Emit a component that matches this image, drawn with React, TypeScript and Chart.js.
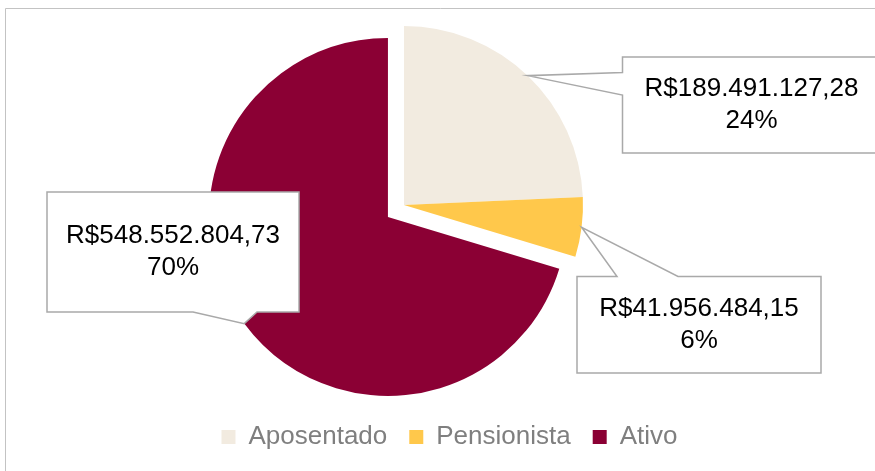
import React, { useEffect, useRef } from 'react';
import { Chart, registerables } from 'chart.js';

Chart.register(...registerables);

// ---- data ----
const CATEGORIES = ['Aposentado', 'Pensionista', 'Ativo'];
const VALUES = [189491127.28, 41956484.15, 548552804.73];
const PERCENT_LABELS = ['24%', '6%', '70%'];
const EXPLODE = [0, 0, 20];
const COLORS = ['#F2EBE0', '#FFC84B', '#8B0034'];

// ---- layout (positions / sizes / styles) ----
const FONT = "'Liberation Sans', Arial, sans-serif";
const PIE_AREA = { cx: 404, cy: 205, r: 179 };
const CALLOUTS = [
  { x: 622.5, y: 57, w: 258, h: 96, side: 'left', a: 72.5, b: 95 },
  { x: 577, y: 276.5, w: 244, h: 96.5, side: 'top', a: 617, b: 678 },
  { x: 47, y: 192, w: 252, h: 120, side: 'bottom', a: 193, b: 257 },
];

function formatBRL(v: number): string {
  const [intPart, dec] = v.toFixed(2).split('.');
  const grouped = intPart.replace(/\B(?=(\d{3})+(?!\d))/g, '.');
  return 'R$' + grouped + ',' + dec;
}

const framePlugin = {
  id: 'frame',
  beforeDraw(chart: any) {
    const ctx = chart.ctx;
    ctx.save();
    ctx.strokeStyle = '#c3c3c3';
    ctx.lineWidth = 1;
    ctx.beginPath();
    ctx.moveTo(5.5, chart.height);
    ctx.lineTo(5.5, 8.5);
    ctx.lineTo(chart.width, 8.5);
    ctx.stroke();
    ctx.restore();
  },
};

const pieAreaPlugin = {
  id: 'pieArea',
  afterLayout(chart: any) {
    const { cx, cy, r } = PIE_AREA;
    chart.chartArea = {
      left: cx - r,
      right: cx + r,
      top: cy - r,
      bottom: cy + r,
      width: 2 * r,
      height: 2 * r,
    };
  },
  afterDatasetUpdate(chart: any, args: any) {
    const meta = args.meta;
    meta.data.forEach((arc: any, i: number) => {
      const d = EXPLODE[i] || 0;
      if (!d) return;
      const mid = (arc.startAngle + arc.endAngle) / 2;
      arc.x += Math.cos(mid) * d;
      arc.y += Math.sin(mid) * d;
    });
  },
};

const calloutPlugin = {
  id: 'callouts',
  afterDatasetsDraw(chart: any) {
    const ctx = chart.ctx;
    const meta = chart.getDatasetMeta(0);
    meta.data.forEach((arc: any, i: number) => {
      const c = CALLOUTS[i];
      if (!c) return;
      const mid = (arc.startAngle + arc.endAngle) / 2;
      const tx = arc.x + Math.cos(mid) * arc.outerRadius;
      const ty = arc.y + Math.sin(mid) * arc.outerRadius;
      const { x, y, w, h, side, a, b } = c;
      ctx.save();
      ctx.beginPath();
      if (side === 'left') {
        ctx.moveTo(x, y);
        ctx.lineTo(x + w, y);
        ctx.lineTo(x + w, y + h);
        ctx.lineTo(x, y + h);
        ctx.lineTo(x, b);
        ctx.lineTo(tx, ty);
        ctx.lineTo(x, a);
      } else if (side === 'top') {
        ctx.moveTo(x, y);
        ctx.lineTo(a, y);
        ctx.lineTo(tx, ty);
        ctx.lineTo(b, y);
        ctx.lineTo(x + w, y);
        ctx.lineTo(x + w, y + h);
        ctx.lineTo(x, y + h);
      } else {
        ctx.moveTo(x, y);
        ctx.lineTo(x + w, y);
        ctx.lineTo(x + w, y + h);
        ctx.lineTo(b, y + h);
        ctx.lineTo(tx, ty);
        ctx.lineTo(a, y + h);
        ctx.lineTo(x, y + h);
      }
      ctx.closePath();
      ctx.fillStyle = '#ffffff';
      ctx.fill();
      ctx.strokeStyle = '#a9a9a9';
      ctx.lineWidth = 1.5;
      ctx.lineJoin = 'miter';
      ctx.stroke();

      ctx.fillStyle = '#000000';
      ctx.font = `26px ${FONT}`;
      ctx.textAlign = 'center';
      ctx.textBaseline = 'middle';
      const cxT = x + w / 2;
      const cyT = y + h / 2;
      ctx.fillText(formatBRL(VALUES[i]), cxT, cyT - 16);
      ctx.fillText(PERCENT_LABELS[i], cxT, cyT + 16);
      ctx.restore();
    });
  },
};

export default function App() {
  const ref = useRef<HTMLCanvasElement>(null);
  useEffect(() => {
    document.body.style.margin = '0';
    const canvas = ref.current;
    if (!canvas) return;
    const chart = new Chart(canvas, {
      type: 'pie',
      data: {
        labels: CATEGORIES,
        datasets: [
          {
            data: VALUES,
            backgroundColor: COLORS,
            borderWidth: 0,
            clip: false,
          } as any,
        ],
      },
      options: {
        responsive: false,
        animation: false,
        devicePixelRatio: 1,
        layout: { padding: { left: 24, right: 0, top: 0, bottom: 11 } },
        plugins: {
          legend: {
            position: 'bottom',
            labels: {
              boxWidth: 14,
              boxHeight: 14,
              padding: 22,
              color: '#7f7f7f',
              font: { size: 26, family: FONT },
            },
          },
          tooltip: { enabled: false },
        },
      },
      plugins: [framePlugin, pieAreaPlugin, calloutPlugin],
    });
    return () => chart.destroy();
  }, []);
  return (
    <canvas
      ref={ref}
      width={875}
      height={471}
      style={{ display: 'block', width: 875, height: 471 }}
    />
  );
}
